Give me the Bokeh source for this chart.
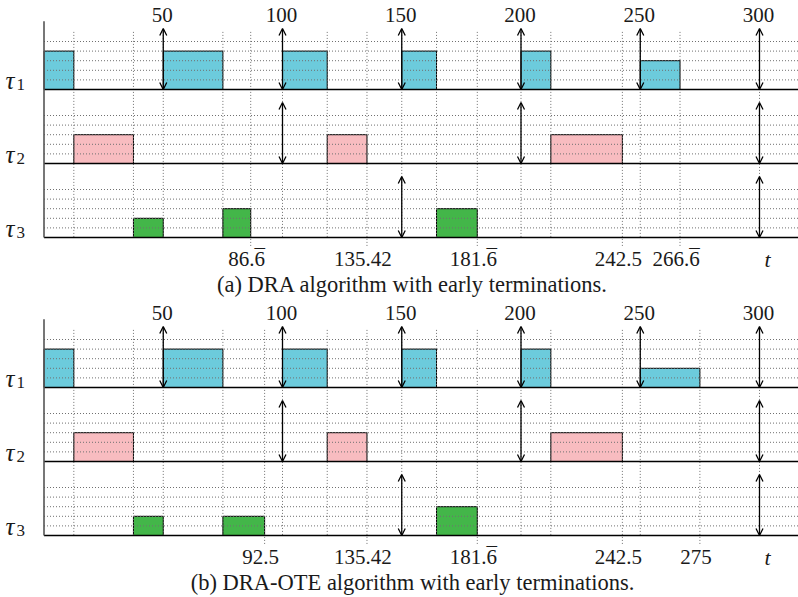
from bokeh.plotting import figure
from bokeh.models import Range1d, ColumnDataSource, Arrow, OpenHead
from bokeh.core.properties import value
from bokeh.embed import file_html
from bokeh.resources import INLINE

# ---------------- data ----------------
# panel (a): DRA
a_t1_start = [0, 50, 100, 150, 200, 250]
a_t1_end = [12.5, 75, 118.75, 164.58, 212.5, 266.67]
a_t1_h = [4, 4, 4, 4, 4, 3]
a_t2_start = [12.5, 118.75, 212.5]
a_t2_end = [37.5, 135.42, 242.5]
a_t2_h = [3, 3, 3]
a_t3_start = [37.5, 75, 164.58]
a_t3_end = [50, 86.67, 181.67]
a_t3_h = [2, 3, 3]
a_vlines = [12.5, 37.5, 50, 75, 86.67, 100, 118.75, 135.42, 150, 164.58,
            181.67, 200, 212.5, 242.5, 250, 266.67, 300]
a_marks = [86.67, 135.42, 181.67, 242.5, 266.67]
a_mark_labels = ["86.6", "135.42", "181.6", "242.5", "266.6"]
a_mark_bar = [True, False, True, False, True]
a_caption = "(a) DRA algorithm with early terminations."

# panel (b): DRA-OTE
b_t1_start = [0, 50, 100, 150, 200, 250]
b_t1_end = [12.5, 75, 118.75, 164.58, 212.5, 275]
b_t1_h = [4, 4, 4, 4, 4, 2]
b_t2_start = [12.5, 118.75, 212.5]
b_t2_end = [37.5, 135.42, 242.5]
b_t2_h = [3, 3, 3]
b_t3_start = [37.5, 75, 164.58]
b_t3_end = [50, 92.5, 181.67]
b_t3_h = [2, 2, 3]
b_vlines = [12.5, 37.5, 50, 75, 92.5, 100, 118.75, 135.42, 150, 164.58,
            181.67, 200, 212.5, 242.5, 250, 275, 300]
b_marks = [92.5, 135.42, 181.67, 242.5, 275]
b_mark_labels = ["92.5", "135.42", "181.6", "242.5", "275"]
b_mark_bar = [False, False, True, False, False]
b_caption = "(b) DRA-OTE algorithm with early terminations."

# releases / deadlines (arrows)
t1_releases = [50, 100, 150, 200, 250, 300]
t2_releases = [100, 200, 300]
t3_releases = [150, 300]
top_ticks = [50, 100, 150, 200, 250, 300]
top_tick_labels = ["50", "100", "150", "200", "250", "300"]
task_names = ["1", "2", "3"]
grid_levels = [1, 2, 3, 4, 5]

# ---------------- layout constants ----------------
W, H = 798, 597
PX_PER_T = 2.385
T0_PX = 43.5
UNIT = 9.6
X0 = -T0_PX / PX_PER_T
X1 = (W - T0_PX) / PX_PER_T
ROW_GAP = 74 / UNIT
ROW_OFF = [2 * ROW_GAP, ROW_GAP, 0]
PANEL_BASE = [(H - 237) / UNIT, (H - 535) / UNIT]
COLORS = ["#6CCBDC", "#F8BCC0", "#43B649"]
SERIF = "'Liberation Serif', 'Times New Roman', serif"
TXT = "#1a1a1a"
FS = 21
LBL_Y = -2.28

p = figure(width=W, height=H, output_backend="svg", toolbar_location=None,
           x_range=Range1d(X0, X1), y_range=Range1d(0, H / UNIT),
           x_axis_location=None, y_axis_location=None,
           min_border=0, min_border_left=0, min_border_right=0,
           min_border_top=0, min_border_bottom=0)
p.grid.visible = False
p.outline_line_color = None
p.background_fill_color = "white"
p.border_fill_color = "white"

panels = [
    dict(blocks=[(a_t1_start, a_t1_end, a_t1_h), (a_t2_start, a_t2_end, a_t2_h),
                 (a_t3_start, a_t3_end, a_t3_h)],
         vlines=a_vlines, marks=a_marks, mark_labels=a_mark_labels, bars=a_mark_bar,
         caption=a_caption),
    dict(blocks=[(b_t1_start, b_t1_end, b_t1_h), (b_t2_start, b_t2_end, b_t2_h),
                 (b_t3_start, b_t3_end, b_t3_h)],
         vlines=b_vlines, marks=b_marks, mark_labels=b_mark_labels, bars=b_mark_bar,
         caption=b_caption),
]
releases = [t1_releases, t2_releases, t3_releases]

def est_width(s):
    return sum(0.25 * FS if c == "." else 0.5 * FS for c in s)

for pi, pan in enumerate(panels):
    base = PANEL_BASE[pi]
    # execution blocks
    for ti, (st, en, hh) in enumerate(pan["blocks"]):
        rb = base + ROW_OFF[ti]
        p.quad(left=st, right=en, bottom=[rb] * len(st), top=[rb + h for h in hh],
               fill_color=COLORS[ti], line_color="black", line_width=1)
    # horizontal dotted grid
    xs0, xs1, ys = [], [], []
    for ti in range(3):
        rb = base + ROW_OFF[ti]
        for lv in grid_levels:
            xs0.append(0); xs1.append(X1); ys.append(rb + lv)
    p.segment(x0=xs0, y0=ys, x1=xs1, y1=ys, line_color="#707070",
              line_dash="1 2", line_width=1)
    # vertical dotted lines
    top_v = base + ROW_OFF[0] + 6
    vb = [base - 1.05 if v in pan["marks"] else base for v in pan["vlines"]]
    p.segment(x0=pan["vlines"], y0=[top_v] * len(pan["vlines"]), x1=pan["vlines"],
              y1=vb, line_color="#707070", line_dash="1 2", line_width=1)
    # baselines and left axis
    rbs = [base + ROW_OFF[ti] for ti in range(3)]
    p.segment(x0=[0] * 3, y0=rbs, x1=[X1] * 3, y1=rbs, line_color="black", line_width=1.3)
    p.segment(x0=[0], y0=[base + ROW_OFF[0] + 7.1], x1=[0], y1=[base],
              line_color="#555555", line_width=1.6)
    # release/deadline arrows
    axs, ays, aye = [], [], []
    for ti in range(3):
        rb = base + ROW_OFF[ti]
        for r in releases[ti]:
            axs.append(r); ays.append(rb); aye.append(rb + 6.35)
    src = ColumnDataSource(dict(xs=axs, ys=ays, xe=axs, ye=aye))
    p.add_layout(Arrow(source=src, x_start="xs", y_start="ys", x_end="xe", y_end="ye",
                       line_width=1.3, line_color="black",
                       start=OpenHead(size=7, line_width=1.3, line_color="black"),
                       end=OpenHead(size=7, line_width=1.3, line_color="black")))
    # top tick labels
    p.text(x=top_ticks, y=[base + ROW_OFF[0] + 7.76] * len(top_ticks), text=top_tick_labels,
           text_font=value(SERIF), text_font_size=f"{FS}px", text_align="center",
           text_baseline="middle", text_color=TXT, x_offset=-1)
    # bottom labels (with overline over repeating digit)
    p.text(x=pan["marks"], y=[base + LBL_Y] * len(pan["marks"]), text=pan["mark_labels"],
           text_font=value(SERIF), text_font_size=f"{FS}px", text_align="center",
           text_baseline="middle", text_color=TXT, x_offset=-4)
    bx = [m for m, b in zip(pan["marks"], pan["bars"]) if b]
    boff = [est_width(s) / 2 - 0.25 * FS - 4 for s, b in zip(pan["mark_labels"], pan["bars"]) if b]
    p.text(x=bx, y=[base + LBL_Y] * len(bx), text=["\u00af"] * len(bx),
           text_font=value(SERIF), text_font_size=f"{FS}px", text_align="center",
           text_baseline="middle", text_color=TXT, x_offset=boff, y_offset=-2)
    p.text(x=[300], y=[base + LBL_Y], text=["t"], text_font=value(SERIF),
           text_font_style="italic", text_font_size="22px", text_align="center",
           text_baseline="middle", text_color=TXT, x_offset=8)
    # task labels
    for ti in range(3):
        rb = base + ROW_OFF[ti]
        p.text(x=[X0], y=[rb + 0.9], text=["\u03c4"], text_font=value(SERIF),
               text_font_style="italic", text_font_size="25px", text_align="left",
               text_baseline="middle", text_color=TXT, x_offset=5)
        p.text(x=[X0], y=[rb + 0.55], text=[task_names[ti]], text_font=value(SERIF),
               text_font_size="17px", text_align="left",
               text_baseline="middle", text_color=TXT, x_offset=16)
    # caption
    p.text(x=[154.5], y=[base - 4.9], text=[pan["caption"]], text_font=value(SERIF),
           text_font_size="22.5px", text_align="center", text_baseline="middle",
           text_color=TXT)

open("out.html", "w").write(file_html(p, INLINE))
